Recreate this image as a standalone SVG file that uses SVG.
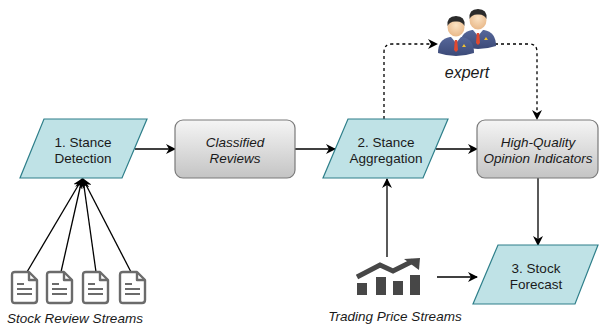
<svg xmlns="http://www.w3.org/2000/svg" width="600" height="325" viewBox="0 0 600 325">
<defs>
<linearGradient id="gray" x1="0" y1="0" x2="0" y2="1">
<stop offset="0" stop-color="#f5f5f5"/>
<stop offset="1" stop-color="#c4c4c4"/>
</linearGradient>
<linearGradient id="suit" x1="0" y1="0" x2="0" y2="1">
<stop offset="0" stop-color="#56679a"/>
<stop offset="1" stop-color="#3c4a78"/>
</linearGradient>
<radialGradient id="skin" cx="0.5" cy="0.4" r="0.6">
<stop offset="0" stop-color="#fbe3c4"/>
<stop offset="1" stop-color="#e9b98a"/>
</radialGradient>
<marker id="arr" viewBox="0 0 10 10" refX="9" refY="5" markerWidth="10" markerHeight="10" markerUnits="userSpaceOnUse" orient="auto">
<path d="M0,0 L10,5 L0,10 L3,5 Z" fill="#000"/>
</marker>
<g id="doc">
<path d="M3,0 H17 L25,8 V28 Q25,31 22,31 H3 Q0,31 0,28 V3 Q0,0 3,0 Z" fill="#fff" stroke="#6b6b6b" stroke-width="2.4" stroke-linejoin="round"/>
<path d="M17,0 V8 H25" fill="none" stroke="#6b6b6b" stroke-width="2.4" stroke-linejoin="round"/>
<path d="M5,12 H12 M5,17 H20 M5,22 H20" stroke="#6b6b6b" stroke-width="2.2"/>
</g>
<g id="person">
<path d="M-18,20 Q-18,6 -6,4 L6,4 Q18,6 18,20 Q0,26 -18,20 Z" fill="url(#suit)"/>
<path d="M-5,4 L0,10 L5,4 Z" fill="#fff"/>
<path d="M-1.2,7 L1.2,7 L2,17 L0,19 L-2,17 Z" fill="#e0492f"/>
<path d="M8,11 L10,14 L6,14 Z" fill="#f2c230"/>
<ellipse cx="0" cy="-6" rx="8.5" ry="9.5" fill="url(#skin)"/>
<path d="M-8.5,-7 Q-9.5,-17 0,-17 Q9.5,-17 8.5,-7 Q6,-12 0,-11.5 Q-6,-12 -8.5,-7 Z" fill="#2b2b2b"/>
</g>
</defs>
<style>
.para{fill:#bfe2e6;stroke:#2e7f8a;stroke-width:1.2}
.box{fill:url(#gray);stroke:#7a7a7a;stroke-width:1.2}
.t{font-family:"Liberation Sans",Arial,sans-serif;font-size:13.5px;fill:#1a1a1a;text-anchor:middle}
.i{font-style:italic}
.c{fill:none;stroke:#000;stroke-width:1.3}
.d{fill:none;stroke:#000;stroke-width:1.3;stroke-dasharray:3,3}
</style>

<g id="connectors">
<path class="c" d="M135,149 H175" marker-end="url(#arr)"/>
<path class="c" d="M295,149 H335" marker-end="url(#arr)"/>
<path class="c" d="M436,149 H477" marker-end="url(#arr)"/>
<path class="c" d="M538,178 V245" marker-end="url(#arr)"/>
<path class="c" d="M387,257 V179" marker-end="url(#arr)"/>
<path class="c" d="M437,277 H477" marker-end="url(#arr)"/>
<path class="c" d="M27,272 L82,179" marker-end="url(#arr)"/>
<path class="c" d="M61,272 L82,179" marker-end="url(#arr)"/>
<path class="c" d="M96,272 L83,179" marker-end="url(#arr)"/>
<path class="c" d="M131,272 L83,179" marker-end="url(#arr)"/>
<path class="d" d="M384,119 V52 Q384,44 392,44 H437" marker-end="url(#arr)"/>
<path class="d" d="M495,44 H529 Q537,44 537,52 V119" marker-end="url(#arr)"/>
</g>

<g id="stance-detection">
<polygon class="para" points="44,119 147,119 122,178 20,178"/>
<text class="t" x="83" y="147">1. Stance</text>
<text class="t" x="83" y="163">Detection</text>
</g>

<g id="classified-reviews">
<rect class="box" x="175" y="120" width="120" height="58" rx="8"/>
<text class="t i" x="235" y="147">Classified</text>
<text class="t i" x="235" y="163">Reviews</text>
</g>

<g id="stance-aggregation">
<polygon class="para" points="348,119 448,119 423,178 323,178"/>
<text class="t" x="386" y="147">2. Stance</text>
<text class="t" x="386" y="163">Aggregation</text>
</g>

<g id="opinion-indicators">
<rect class="box" x="477" y="120" width="121" height="58" rx="8"/>
<text class="t i" x="538" y="147">High-Quality</text>
<text class="t i" x="538" y="163">Opinion Indicators</text>
</g>

<g id="stock-forecast">
<polygon class="para" points="498,245 598,245 575,304 473,304"/>
<text class="t" x="536" y="273">3. Stock</text>
<text class="t" x="536" y="289">Forecast</text>
</g>

<g id="expert">
<use href="#person" x="478" y="26"/>
<use href="#person" x="456" y="33"/>
<text class="t i" x="467" y="78" style="font-size:16px">expert</text>
</g>

<g id="trading-price-streams">
<g fill="#474747">
<rect x="357" y="283" width="10" height="12"/>
<rect x="376" y="277" width="10" height="18"/>
<rect x="393" y="281" width="10" height="14"/>
<rect x="410" y="275" width="10" height="20"/>
</g>
<path d="M357,277 L380,265 L393,271 L413,261" fill="none" stroke="#474747" stroke-width="5" stroke-linejoin="miter"/>
<path d="M404,259 L420,258 L419,270 Z" fill="#474747"/>
<text class="t i" x="395" y="321" style="font-size:13.5px">Trading Price Streams</text>
</g>

<g id="stock-review-streams">
<use href="#doc" x="12" y="272"/>
<use href="#doc" x="47" y="272"/>
<use href="#doc" x="83" y="272"/>
<use href="#doc" x="120" y="272"/>
<text class="t i" x="75" y="323" style="font-size:13.5px">Stock Review Streams</text>
</g>
</svg>
